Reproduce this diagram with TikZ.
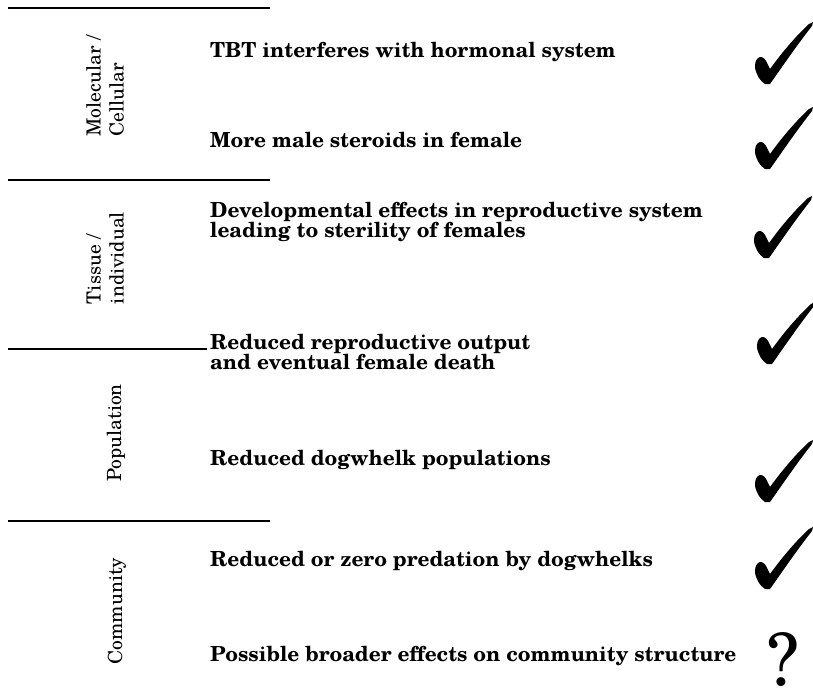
\documentclass[tikz,border=0pt]{standalone}
\usepackage{fontspec}
\setmainfont{texgyreschola}[Extension=.otf, UprightFont=*-regular, BoldFont=*-bold, ItalicFont=*-italic, BoldItalicFont=*-bolditalic]
\begin{document}
\begin{tikzpicture}[x=1pt,y=-1pt,
  rule/.style={line width=1.4pt},
  effect/.style={anchor=west, align=left, inner sep=0pt, font=\fontsize{20.8}{20.5}\selectfont\bfseries},
  level/.style={rotate=90, align=left, inner sep=0pt, font=\fontsize{19.5}{23}\selectfont},
  pics/tick/.style={code={
    \fill (0,1) .. controls (-5,-2) and (-10,-10) .. (-10,-17)
      .. controls (-10,-22) and (-8,-25) .. (-5,-26)
      .. controls (-2,-26.5) and (1,-23) .. (2,-20)
      -- (5,-14)
      .. controls (18,-32) and (32,-48) .. (44,-59)
      -- (48,-61) -- (47,-57)
      .. controls (32,-38) and (17,-16) .. (5,1)
      -- cycle;}}]
\useasboundingbox (0,0) rectangle (813,691);

% rules
\coordinate (r1a) at (8,8);   \coordinate (r1b) at (270,8);
\coordinate (r2a) at (8,180); \coordinate (r2b) at (270,180);
\coordinate (r3a) at (8,349); \coordinate (r3b) at (207,349);
\coordinate (r4a) at (8,521); \coordinate (r4b) at (270,521);
\draw[rule] (r1a) -- (r1b);
\draw[rule] (r2a) -- (r2b);
\draw[rule] (r3a) -- (r3b);
\draw[rule] (r4a) -- (r4b);

% level labels
\node[level] (mol) at (105,86) {Molecular /\\Cellular};
\node[level] (tis) at (105,258) {Tissue /\\individual};
\node[level] (pop) at (116,433) {Population};
\node[level] (com) at (117,611) {Community};

% effects
\node[effect] (e1) at (210,52) {TBT interferes with hormonal system};
\node[effect] (e2) at (210,140) {More male steroids in female};
\node[effect] (e3) at (210,222) {Developmental effects in reproductive system\\leading to sterility of females};
\node[effect] (e4) at (210,352) {Reduced reproductive output\\and eventual female death};
\node[effect] (e5) at (210,460) {Reduced dogwhelk populations};
\node[effect] (e6) at (210,561) {Reduced or zero predation by dogwhelks};
\node[effect] (e7) at (210,656) {Possible broader effects on community structure};

% ticks
\pic at (765,83) {tick};
\pic at (765,168) {tick};
\pic at (764,257) {tick};
\pic at (767,363) {tick};
\pic at (765,501) {tick};
\pic at (765,588) {tick};
\node[inner sep=0pt, anchor=base, font=\fontsize{72}{72}\selectfont] (q) at (783,685) {?};
\end{tikzpicture}
\end{document}
